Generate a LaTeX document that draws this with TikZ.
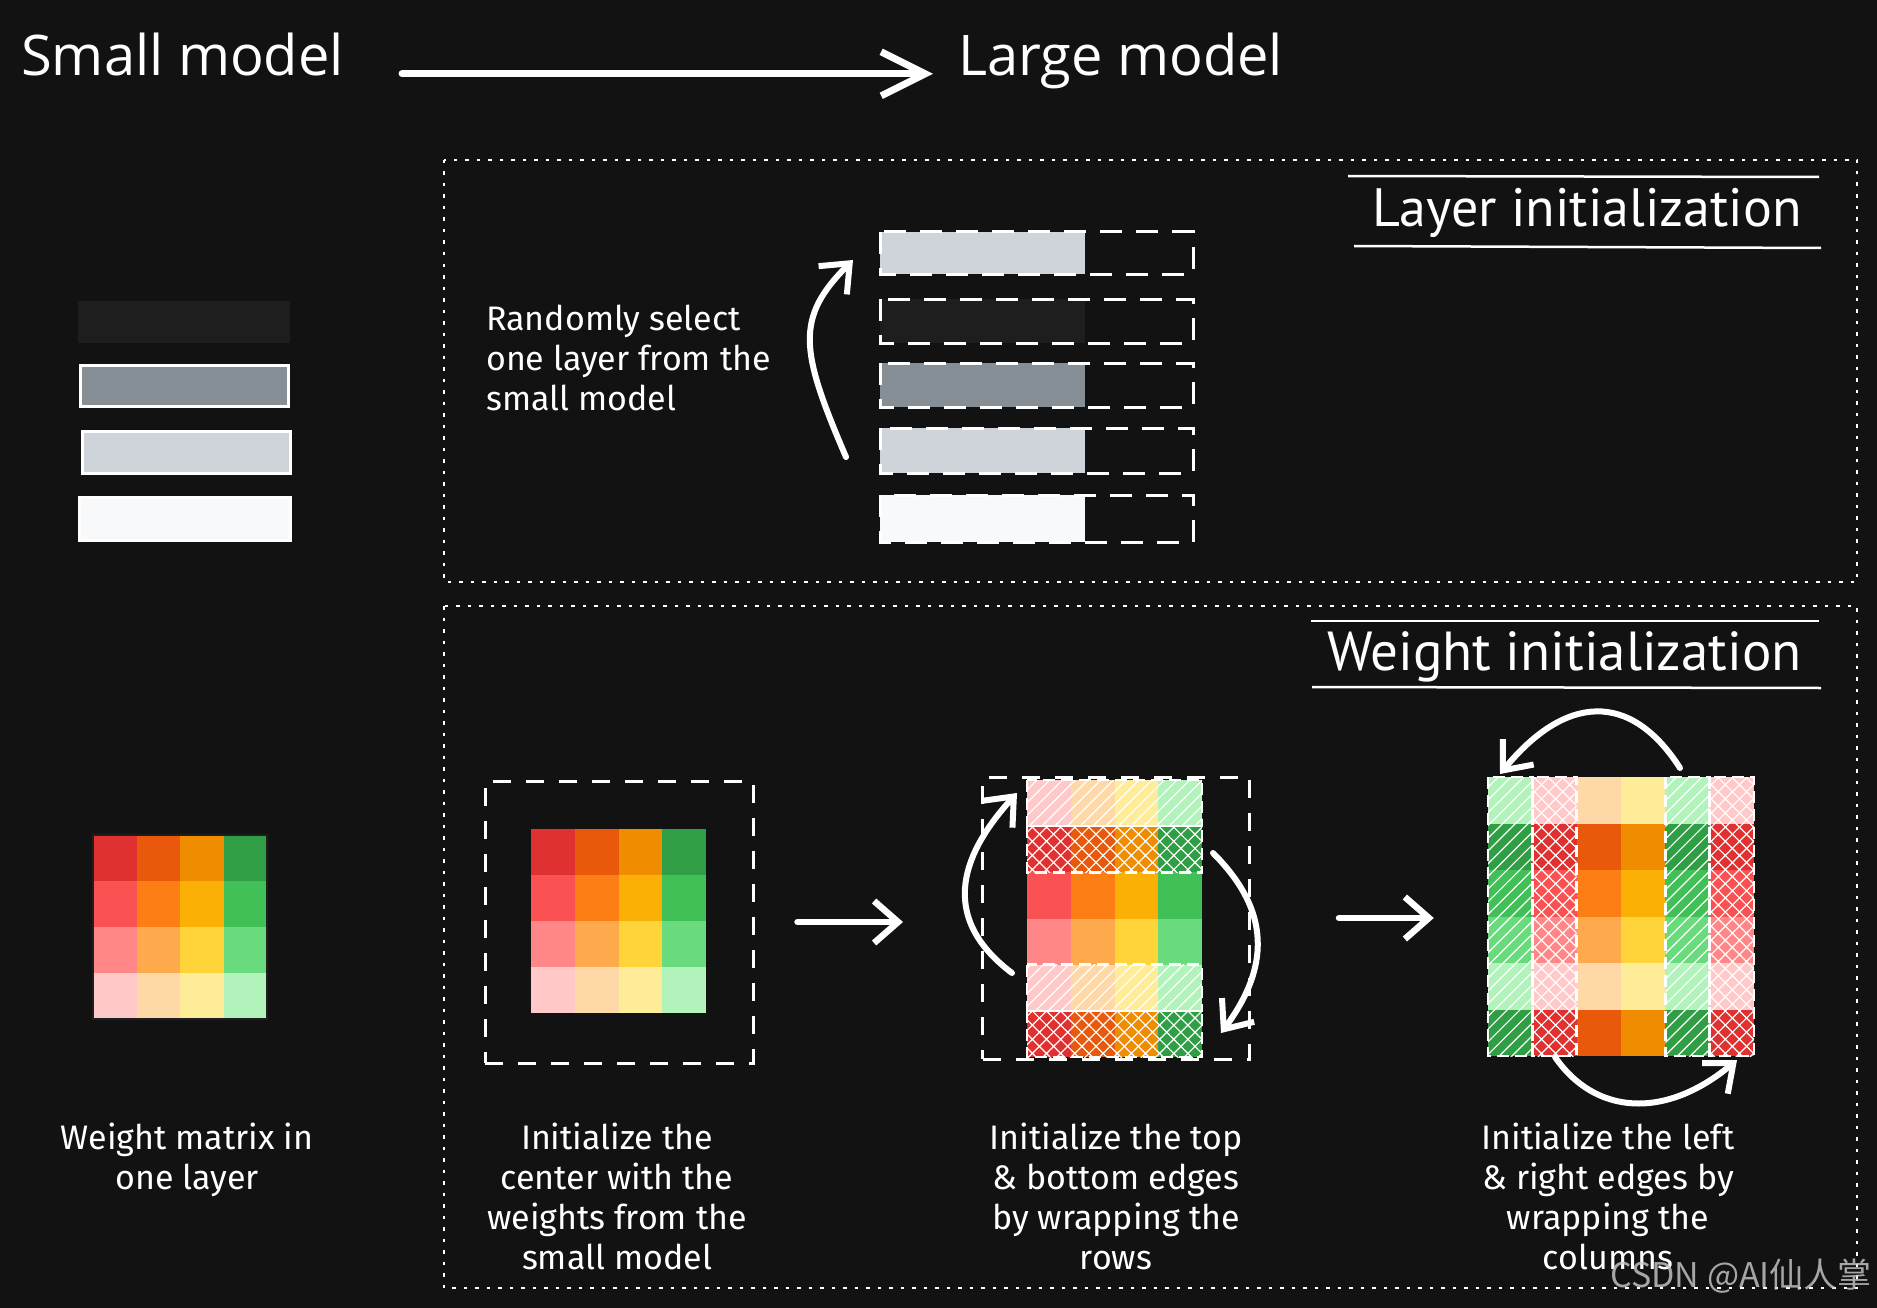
\documentclass[tikz,border=0pt]{standalone}
\usepackage{fontspec}
\usetikzlibrary{arrows.meta,patterns.meta}

\newfontfamily\headfont{Open Sans}
\newfontfamily\titlefont{PT Sans}
\newfontfamily\handfont{Fira Sans}
\newfontfamily\markfont{Noto Sans CJK SC}

% background and greys
\definecolor{bg}{HTML}{121212}
\definecolor{bar1}{HTML}{1E1E1E}
\definecolor{bar2}{HTML}{868E96}
\definecolor{bar3}{HTML}{CED4DA}
\definecolor{bar4}{HTML}{F8F9FA}
% weight colours, row by column
\definecolor{w11}{HTML}{E03131}
\definecolor{w12}{HTML}{E8590C}
\definecolor{w13}{HTML}{F08C00}
\definecolor{w14}{HTML}{2F9E44}
\definecolor{w21}{HTML}{FA5252}
\definecolor{w22}{HTML}{FD7E14}
\definecolor{w23}{HTML}{FAB005}
\definecolor{w24}{HTML}{40C057}
\definecolor{w31}{HTML}{FF8787}
\definecolor{w32}{HTML}{FFA94D}
\definecolor{w33}{HTML}{FFD43B}
\definecolor{w34}{HTML}{69DB7C}
\definecolor{w41}{HTML}{FFC9C9}
\definecolor{w42}{HTML}{FFD8A8}
\definecolor{w43}{HTML}{FFEC99}
\definecolor{w44}{HTML}{B2F2BB}

\tikzset{
  panelframe/.style={draw=white, line width=2.5pt, dash pattern=on 3.5pt off 8pt},
  dashbox/.style={draw=white, line width=3pt, dash pattern=on 18pt off 15pt, inner sep=0pt},
  rowdash/.style={draw=white, line width=2.5pt, dash pattern=on 12pt off 6pt},
  stackdash/.style={draw=white, line width=3pt, dash pattern=on 22pt off 14pt},
  bigarrow/.style={draw=white, line width=7pt, line cap=round, -{Straight Barb[length=44pt,width=44pt]}},
  flowarrow/.style={draw=white, line width=6.5pt, line cap=round, -{Straight Barb[length=24pt,width=42pt]}},
  curvearrow/.style={draw=white, line width=6pt, line cap=round, -{Straight Barb[length=24pt,width=40pt]}},
  hatchfill/.style={pattern={Lines[angle=45,distance=9pt,line width=1.2pt]}, pattern color=white},
  crossfill/.style={pattern={Hatch[angle=45,distance=10pt,line width=1.2pt]}, pattern color=white},
  modeltext/.style={text=white, inner sep=0pt, font=\headfont\fontsize{56}{60}\selectfont},
  sectitle/.style={text=white, inner sep=0pt, font=\titlefont\fontsize{54}{60}\selectfont},
  handtext/.style={text=white, inner sep=0pt, font=\handfont\fontsize{34}{40}\selectfont},
}

\begin{document}
\begin{tikzpicture}[x=1pt,y=-1pt]
    \fill[bg] (0,0) rectangle (1877,1308);
    \useasboundingbox (0,0) rectangle (1877,1308);

    % heading
    \node[modeltext, anchor=base west] (smallmodel) at (21,76) {Small model};
    \node[modeltext, anchor=base west] (largemodel) at (958,76) {Large model};
    \draw[bigarrow] ([xshift=58pt]smallmodel.mid east) -- ([xshift=-25pt]largemodel.mid west);

    % layers of the small model
    \fill[bar1] (78,301) rectangle (290,343);
    \filldraw[fill=bar2, draw=white, line width=3pt] (80,365) rectangle (288,406);
    \filldraw[fill=bar3, draw=white, line width=3pt] (82,431) rectangle (290,473);
    \filldraw[fill=bar4, draw=white, line width=3pt] (79,497) rectangle (290,540);

    % weight matrix of the small model
    \foreach \row in {1,...,4}
      \foreach \col in {1,...,4}
        \fill[fill=w\row\col] ({93+(\col-1)*43.5},{835+(\row-1)*46}) rectangle ++(43.5,46);
    \draw[bar1, line width=2pt] (93,835) rectangle (267,1019);
    \node[handtext, anchor=north, align=center] (matrixnote) at (187,1123) {Weight matrix in\\one layer};

    % layer initialization
    \draw[panelframe] (444,160) rectangle (1857,582);
    \node[sectitle, anchor=base east] (layertitle) at (1802,226) {Layer initialization};
    \draw[white, line width=2.5pt] (1348,176) -- (1819,177);
    \draw[white, line width=2.5pt] (1354,246) -- (1821,248);

    \node[handtext, anchor=north west, align=left] (selectnote) at (486,305) {Randomly select\\one layer from the\\small model};

    \fill[bar3] (880,232) rectangle (1085,274);
    \fill[bar1] (880,299) rectangle (1085,343);
    \fill[bar2] (880,363) rectangle (1085,407);
    \fill[bar3] (880,428) rectangle (1085,473);
    \fill[bar4] (880,495) rectangle (1085,542);
    \foreach \ya/\yb in {232/274,299/343,363/407,428/473,495/542}
      \draw[stackdash] (880,\ya) rectangle (1193,\yb);

    \coordinate (pickfrom) at (846,457);
    \coordinate (pickto) at (853,260);
    \draw[curvearrow] (pickfrom) .. controls (800,350) and (795,318) .. (pickto);

    % weight initialization
    \draw[panelframe] (444,606) rectangle (1857,1288);
    \node[sectitle, anchor=base east, font=\titlefont\fontsize{55}{60}\selectfont] (weighttitle) at (1802,670) {Weight initialization};
    \draw[white, line width=2.5pt] (1311,621) -- (1819,621);
    \draw[white, line width=2.5pt] (1312,687) -- (1821,688);

    % step 1: the centre
    \node[dashbox, minimum width=268pt, minimum height=282pt] (p1) at (619,922) {};
    \foreach \row in {1,...,4}
      \foreach \col in {1,...,4}
        \fill[fill=w\row\col] ({531+(\col-1)*43.75},{829+(\row-1)*46}) rectangle ++(43.75,46);
    \node[handtext, anchor=north, align=center] (centernote) at (617,1123) {Initialize the\\center with the\\weights from the\\small model};

    % step 2: wrap the rows
    \node[dashbox, minimum width=267pt, minimum height=282pt] (p2) at (1116,918) {};
    \foreach \row [count=\i from 0] in {4,1,2,3,4,1}
      \foreach \col in {1,...,4}
        \fill[fill=w\row\col] ({1027+(\col-1)*43.75},{780+\i*46.17}) rectangle ++(43.75,46.17);
    \foreach \i in {0,4}
      \fill[hatchfill] (1027,{780+\i*46.17}) rectangle ++(175,46.17);
    \foreach \i in {1,5}
      \fill[crossfill] (1027,{780+\i*46.17}) rectangle ++(175,46.17);
    \foreach \i in {0,1,4,5}
      \draw[rowdash] (1027,{780+\i*46.17}) rectangle ++(175,46.17);

    \coordinate (upfrom) at (1012,973);
    \coordinate (upto) at (1017,793);
    \draw[curvearrow] (upfrom) .. controls (935,915) and (965,850) .. (upto);
    \coordinate (downfrom) at (1213,853);
    \coordinate (downto) at (1221,1033);
    \draw[curvearrow] (downfrom) .. controls (1265,905) and (1275,960) .. (downto);
    \node[handtext, anchor=north, align=center] (rowsnote) at (1116,1123) {Initialize the top\\\& bottom edges\\by wrapping the\\rows};

    % step 3: wrap the columns
    \node[inner sep=0pt, minimum width=266pt, minimum height=279pt] (m3) at (1621,916.5) {};
    \foreach \row [count=\i from 0] in {4,1,2,3,4,1}
      \foreach \col [count=\j from 0] in {4,1,2,3,4,1}
        \fill[fill=w\row\col] ({1488+\j*44.33},{777+\i*46.5}) rectangle ++(44.33,46.5);
    \foreach \j in {0,4}
      \fill[hatchfill] ({1488+\j*44.33},777) rectangle ++(44.33,279);
    \foreach \j in {1,5}
      \fill[crossfill] ({1488+\j*44.33},777) rectangle ++(44.33,279);
    \foreach \j in {0,1,4,5}
      \draw[rowdash] ({1488+\j*44.33},777) rectangle ++(44.33,279);

    \coordinate (leftfrom) at (1680,768);
    \coordinate (leftto) at (1500,774);
    \draw[curvearrow] (leftfrom) .. controls (1630,690) and (1565,695) .. (leftto);
    \coordinate (rightfrom) at (1555,1057);
    \coordinate (rightto) at (1737,1060);
    \draw[curvearrow] (rightfrom) .. controls (1595,1115) and (1665,1120) .. (rightto);
    \node[handtext, anchor=north, align=center] (colsnote) at (1608,1123) {Initialize the left\\\& right edges by\\wrapping the\\columns};

    \draw[flowarrow] ([xshift=43pt]p1.east) -- ([xshift=-78pt]p2.west |- p1.east);
    \draw[flowarrow] ([xshift=88pt]p2.east) -- ([xshift=-54pt]m3.west |- p2.east);

    % watermark
    \node[anchor=base east, inner sep=0pt, text=gray!40!white, opacity=0.8,
      font=\markfont\fontsize{34}{40}\selectfont] (mark) at (1872,1287) {CSDN @AI仙人掌};

    \end{tikzpicture}
\end{document}
